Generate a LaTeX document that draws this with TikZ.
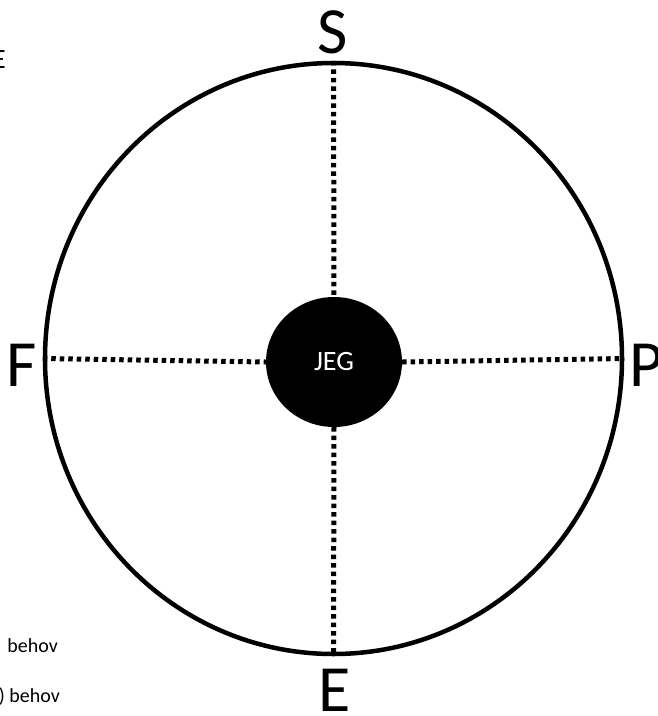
\documentclass[tikz,border=0pt]{standalone}
\usepackage{fontspec}
\setmainfont{Carlito}
\usetikzlibrary{shapes.geometric}
\begin{document}
\begin{tikzpicture}[x=1pt,y=-1pt,
  ring/.style={draw=black,line width=4.5pt},
  spoke/.style={draw=black,line width=5pt,dash pattern=on 4.5pt off 4pt},
  bigletter/.style={inner sep=0pt,font=\fontsize{66}{66}\selectfont},
  small/.style={inner sep=0pt,font=\fontsize{20}{22}\selectfont}]
\useasboundingbox (0,0) rectangle (658,716);
% outer ring
\node[ring,ellipse,minimum width=577pt,minimum height=591pt,inner sep=0pt] (ring) at (333.5,358.5) {};
% centre
\node[ellipse,fill=black,minimum width=136pt,minimum height=130pt,inner sep=0pt,
  text=white,font=\fontsize{28}{28}\selectfont] (jeg) at (334,362) {JEG};
% spokes
\draw[spoke] (ring.north) -- (jeg.north);
\draw[spoke] (jeg.south) -- (ring.south);
\draw[spoke] (ring.west) -- (jeg.west);
\draw[spoke] (jeg.east) -- (ring.east);
% labels
\node[bigletter,anchor=base] (S) at (333,53) {S};
\node[bigletter,anchor=base] (E) at (335,711) {E};
\node[bigletter,anchor=base west] (F) at (6,386) {F};
\node[bigletter,anchor=base west] (P) at (629,386) {P};
% clipped texts at left
\begin{scope}
\clip (0,0) rectangle (658,716);
\node[inner sep=0pt,anchor=base east,font=\fontsize{28}{28}\selectfont] (e2) at (6,68) {E};
\node[small,anchor=base east] (b1) at (58,652) {behov};
\node[small,anchor=base east] (b2) at (60,702) {) behov};
\end{scope}
\end{tikzpicture}
\end{document}
